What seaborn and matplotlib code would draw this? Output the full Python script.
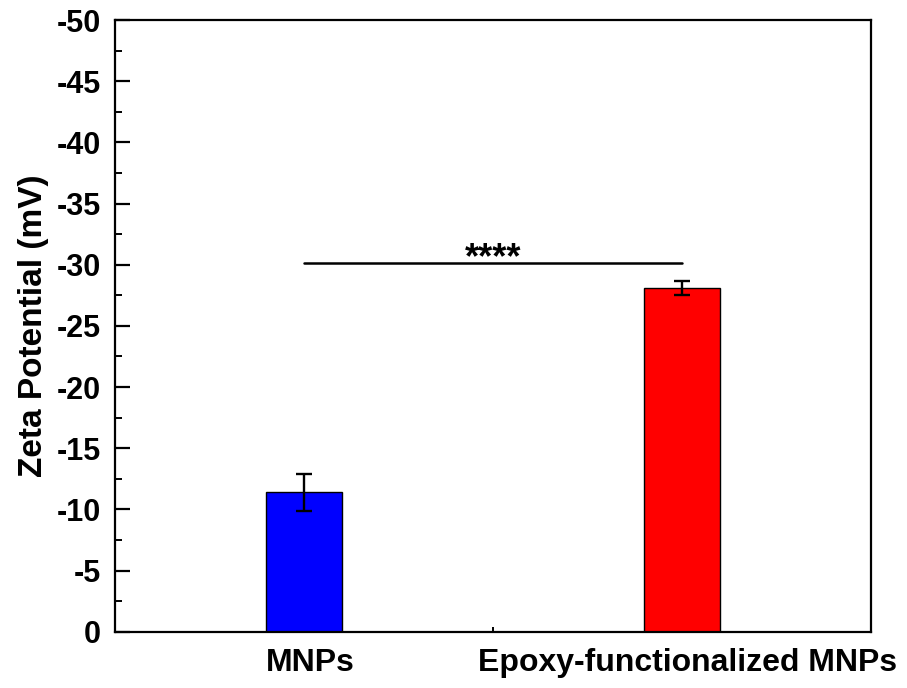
import matplotlib
matplotlib.use("Agg")
import matplotlib.pyplot as plt
import matplotlib.transforms as mtransforms
import seaborn as sns
import pandas as pd
from matplotlib.ticker import MultipleLocator, FixedLocator

categories = ["MNPs", "Epoxy-functionalized MNPs"]
zeta_mean = [-11.4, -28.1]
zeta_err = [1.5, 0.58]
bar_colors = ["#0000FF", "#FF0000"]
sig_level = -30.15
sig_label = "****"
yticks = [0, -5, -10, -15, -20, -25, -30, -35, -40, -45, -50]

sns.set_style("white")
plt.rcParams["font.family"] = ["Liberation Sans", "DejaVu Sans"]
plt.rcParams["font.weight"] = "bold"
plt.rcParams["axes.unicode_minus"] = False
plt.rcParams["text.color"] = "black"
plt.rcParams["axes.labelcolor"] = "black"
plt.rcParams["xtick.color"] = "black"
plt.rcParams["ytick.color"] = "black"

df = pd.DataFrame({"Sample": categories, "Zeta": zeta_mean})

fig = plt.figure(figsize=(9.07, 6.88), dpi=100)
ax = fig.add_axes([0.1268, 0.0818, 0.8335, 0.8891])

sns.barplot(data=df, x="Sample", y="Zeta", hue="Sample", palette=bar_colors,
            saturation=1, width=0.2, edgecolor="black", linewidth=1.0,
            legend=False, ax=ax, errorbar=None)
ax.errorbar(x=list(range(len(categories))), y=zeta_mean, yerr=zeta_err,
            fmt="none", ecolor="black", elinewidth=1.7, capsize=6, capthick=1.7)

ax.plot([0, 1], [sig_level, sig_level], color="black", lw=1.8)
ax.text(0.5, sig_level + 1.1, sig_label, ha="center", va="bottom",
        fontsize=26, fontweight="bold", color="black")

ax.set_xlim(-0.5, 1.5)
ax.set_ylim(0, -50)
ax.set_yticks(yticks)
ax.set_yticklabels([str(v) for v in yticks])
ax.yaxis.set_minor_locator(MultipleLocator(2.5))
ax.xaxis.set_minor_locator(FixedLocator([0.5]))

ax.set_xlabel("")
ax.set_ylabel("Zeta Potential (mV)", fontsize=24, fontweight="bold", labelpad=6,
              color="black")

for s in ax.spines.values():
    s.set_visible(True)
    s.set_color("black")
    s.set_linewidth(1.6)

ax.tick_params(axis="y", which="major", direction="in", length=11, width=1.6,
               labelsize=22, left=True, right=False, pad=10, colors="black")
ax.tick_params(axis="y", which="minor", direction="in", length=5, width=1.4,
               left=True, right=False, colors="black")
ax.tick_params(axis="x", which="major", direction="in", length=7, width=1.6,
               labelsize=23, bottom=True, top=False, pad=12, colors="black")
ax.tick_params(axis="x", which="minor", direction="in", length=3.5, width=1.4,
               bottom=True, top=False, colors="black")
shift = mtransforms.ScaledTranslation(6 / 100, 0, fig.dpi_scale_trans)
for lbl in ax.get_xticklabels():
    lbl.set_fontweight("bold")
    lbl.set_transform(lbl.get_transform() + shift)
for lbl in ax.get_yticklabels():
    lbl.set_fontweight("bold")

fig.savefig("out.png", dpi=100)
